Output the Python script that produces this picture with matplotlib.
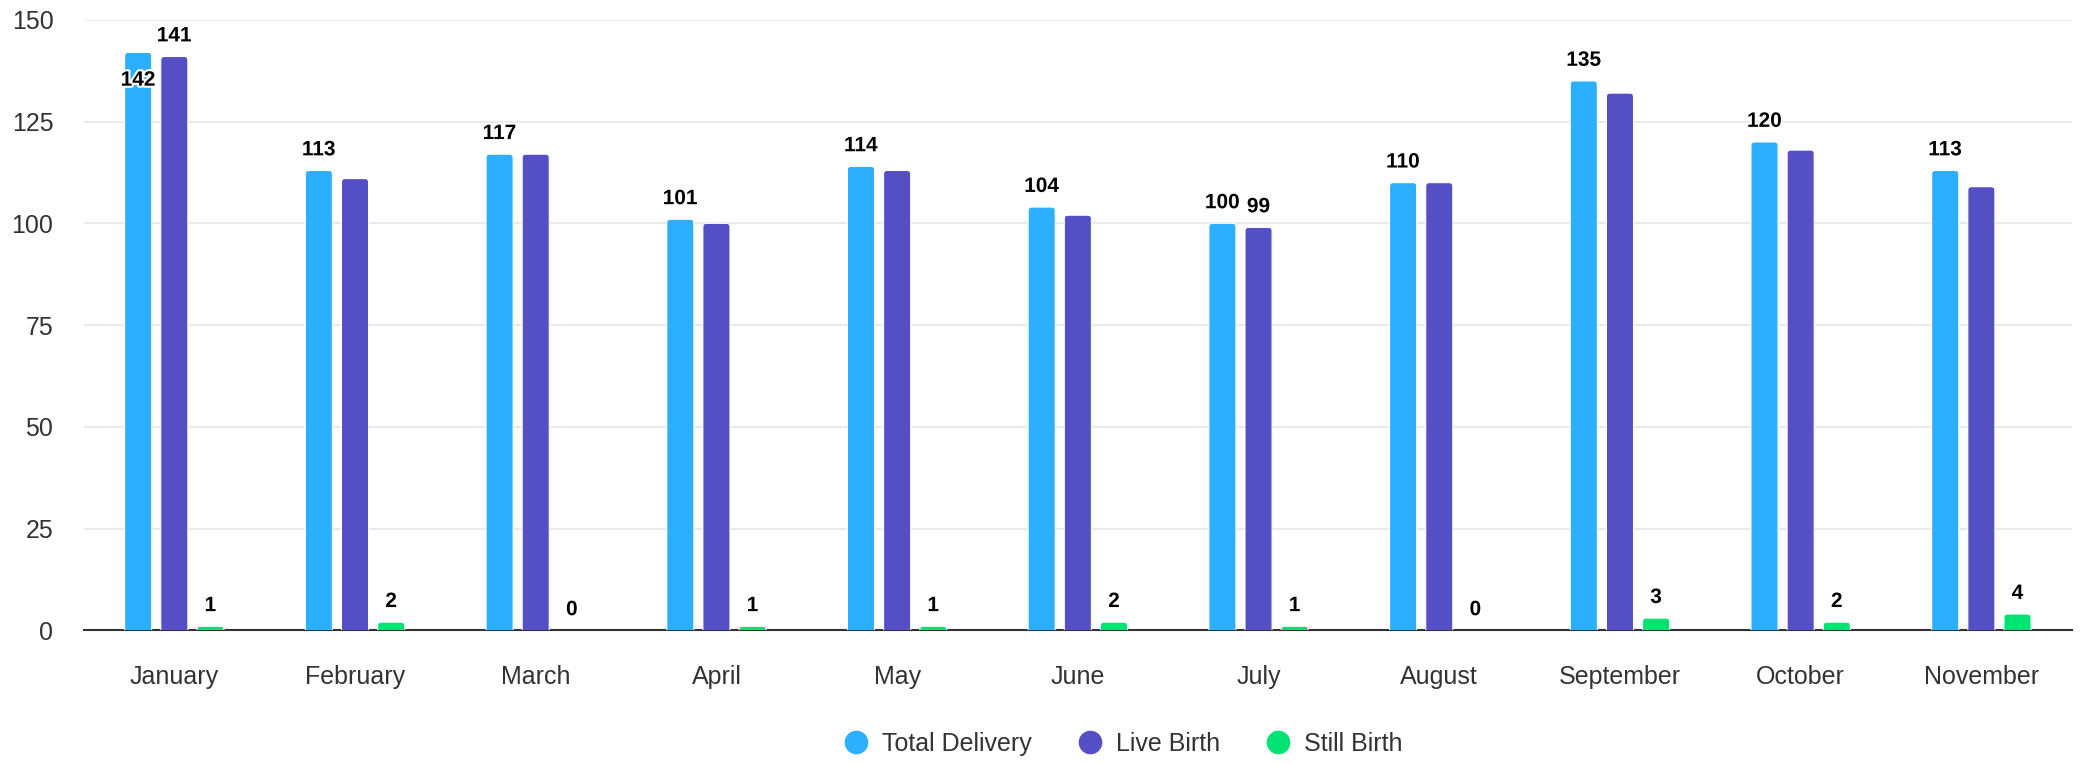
import numpy as np
import matplotlib.pyplot as plt
import matplotlib.patheffects as pe
from matplotlib.lines import Line2D
from matplotlib.patches import FancyBboxPatch

### data
months = ["January", "February", "March", "April", "May", "June",
          "July", "August", "September", "October", "November"]
total_delivery = [142, 113, 117, 101, 114, 104, 100, 110, 135, 120, 113]
live_birth = [141, 111, 117, 100, 113, 102, 99, 110, 132, 118, 109]
still_birth = [1, 2, 0, 1, 1, 2, 1, 0, 3, 2, 4]
series_names = ["Total Delivery", "Live Birth", "Still Birth"]
colors = ["#2caffe", "#544fc5", "#00e272"]
# which labels survive the overlap check in the original
live_labels_shown = ["January", "July"]
yticks = [0, 25, 50, 75, 100, 125, 150]

plt.rcParams['font.family'] = ['Liberation Sans', 'DejaVu Sans']

fig = plt.figure(figsize=(20.99, 7.64), dpi=100)
ax = fig.add_axes([0.04, 0.175, 0.947, 0.799])
ax.set_xlim(-0.5, len(months) - 0.5)
ax.set_ylim(0, 150)

x = np.arange(len(months))
w = 0.15
off = 0.2
outline = [pe.withStroke(linewidth=3, foreground="white")]

# rounded tops: radius in x units, aspect to keep corners circular on screen
bb = ax.get_position()
px_w = bb.width * fig.get_figwidth() * fig.dpi
px_h = bb.height * fig.get_figheight() * fig.dpi
xu = len(months) / px_w
yu = 150 / px_h
aspect = yu / xu
rad = 3.5 * xu

def rounded_bars(xs, vals, color):
    for xc, v in zip(xs, vals):
        if v <= 0:
            continue
        y0 = -rad * aspect
        p = FancyBboxPatch((xc - w / 2, y0), w, v - y0,
                           boxstyle="round,pad=0,rounding_size=%f" % rad,
                           mutation_aspect=aspect, facecolor=color,
                           edgecolor="white", linewidth=0.8, zorder=3)
        ax.add_patch(p)

for i, (vals, c) in enumerate(zip([total_delivery, live_birth, still_birth], colors)):
    xs = x + (i - 1) * off
    rounded_bars(xs, vals, c)
    for j, v in enumerate(vals):
        if i == 1 and months[j] not in live_labels_shown:
            continue
        if i == 0 and v > live_birth[j] and months[j] == "January":
            # pushed inside the bar by the overlap logic
            ax.annotate(str(v), (xs[j], v), xytext=(0, -20), textcoords="offset points",
                        ha="center", va="center", fontsize=15, fontweight="bold",
                        color="black", path_effects=outline, zorder=5)
            continue
        ax.annotate(str(v), (xs[j], v), xytext=(0, 8), textcoords="offset points",
                    ha="center", va="bottom", fontsize=15, fontweight="bold",
                    color="black", path_effects=outline, zorder=5)

ax.set_yticks(yticks)
ax.set_xticks(x)
ax.set_xticklabels(months)
ax.grid(axis="y", color="#e6e6e6", linewidth=1.2, zorder=0)
ax.set_axisbelow(True)
for s in ["top", "right", "left"]:
    ax.spines[s].set_visible(False)
ax.spines["bottom"].set_color("#333333")
ax.spines["bottom"].set_linewidth(1.5)
ax.spines["bottom"].set_zorder(2)
ax.tick_params(axis="x", length=0, pad=25, labelsize=18, labelcolor="#333333")
ax.tick_params(axis="y", length=0, pad=22, labelsize=18, labelcolor="#333333")

handles = [Line2D([0], [0], marker="o", linestyle="none", markersize=16,
                  markerfacecolor=c, markeredgecolor=c) for c in colors]
fig.legend(handles, series_names, loc="center", bbox_to_anchor=(0.535, 0.026),
           ncol=3, frameon=False, fontsize=18, labelcolor="#333333",
           handlelength=1.0, handletextpad=0.55, columnspacing=1.8)

plt.savefig("out.png", dpi=100)
